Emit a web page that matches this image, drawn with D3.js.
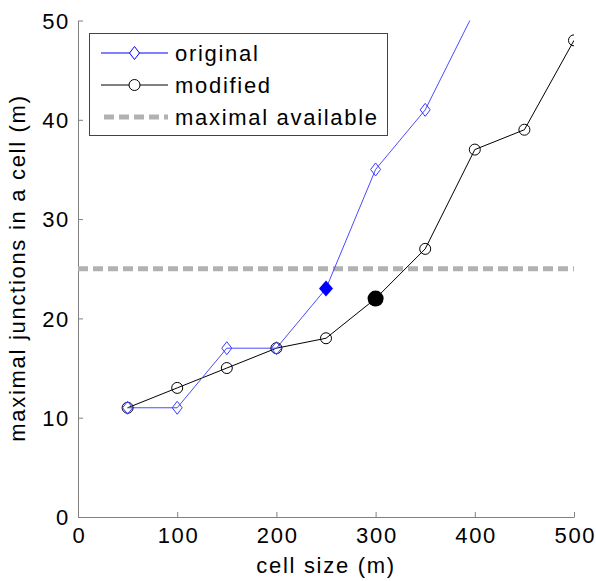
<!DOCTYPE html>
<html><head><meta charset="utf-8">
<script src="https://cdn.jsdelivr.net/npm/d3@7"></script>
<style>body{margin:0;background:#fff}svg{display:block}text{font-family:"Liberation Sans",Arial,sans-serif;fill:#000;letter-spacing:1.7px}</style>
</head><body>
<script>
const cellSizes = [50,100,150,200,250,300,350,400,450,500];
const originalX = [50,100,150,200,250,300,350,400];
const originalY = [11,11,17,17,23,35,41,51];
const modifiedX = [50,100,150,200,250,300,350,400,450,500];
const modifiedY = [11,13,15,17,18,22,27,37,39,48];
const maxAvailable = 25;
const highlightOriginal = {x:250,y:23};
const highlightModified = {x:300,y:22};
const xTicks = [0,100,200,300,400,500];
const yTicks = [0,10,20,30,40,50];
const legendLabels = ["original","modified","maximal available"];

const W=596,H=581;
const svg=d3.select("body").append("svg").attr("width",W).attr("height",H);
const x=d3.scaleLinear().domain([0,500]).range([78,574]);
const y=d3.scaleLinear().domain([0,50]).range([517,20.5]);
const fs=22;

svg.append("defs").append("clipPath").attr("id","clip").append("rect")
  .attr("x",78).attr("y",20.5).attr("width",496).attr("height",496.5);

// axes
const axCol="#808080";
const xa=svg.append("g").attr("transform","translate(0,517)")
  .call(d3.axisBottom(x).tickValues(xTicks).tickSizeInner(-5).tickSizeOuter(0).tickPadding(10));
const ya=svg.append("g").attr("transform","translate(78,0)")
  .call(d3.axisLeft(y).tickValues(yTicks).tickSizeInner(-5).tickSizeOuter(0).tickPadding(8));
[xa,ya].forEach(a=>{
  a.select(".domain").attr("stroke",axCol);
  a.selectAll(".tick line").attr("stroke",axCol);
  a.selectAll("text").style("font-size",fs+"px").attr("fill","#000").style("font-family","Liberation Sans, Arial, sans-serif");
});
xa.selectAll("text").attr("dx","0.85px");
ya.selectAll("text").attr("dy","0.35em");

svg.append("text").attr("x",326).attr("y",573).attr("text-anchor","middle").style("font-size",fs+"px").text("cell size (m)");
svg.append("text").attr("transform","translate(25,268) rotate(-90)").attr("text-anchor","middle").style("font-size",fs+"px").text("maximal junctions in a cell (m)");

const plot=svg.append("g").attr("clip-path","url(#clip)");
// max available
plot.append("line").attr("x1",x(0)).attr("x2",x(500)).attr("y1",y(maxAvailable)).attr("y2",y(maxAvailable))
  .attr("stroke","#b2b2b2").attr("stroke-width",5).attr("stroke-dasharray","10,5");

const line=d3.line().x(d=>x(d[0])).y(d=>y(d[1]));
const mod=modifiedX.map((v,i)=>[v,modifiedY[i]]);
const orig=originalX.map((v,i)=>[v,originalY[i]]);
plot.append("path").datum(mod).attr("d",line).attr("fill","none").attr("stroke","#000").attr("stroke-width",1);
plot.append("path").datum(orig).attr("d",line).attr("fill","none").attr("stroke","#4a4aff").attr("stroke-width",1);

const diamond=(cx,cy,rx,ry)=>`M${cx},${cy-ry}L${cx+rx},${cy}L${cx},${cy+ry}L${cx-rx},${cy}Z`;
plot.selectAll("circle.m").data(mod).enter().append("circle").attr("class","m")
  .attr("cx",d=>x(d[0])).attr("cy",d=>y(d[1])).attr("r",5.5).attr("fill","none").attr("stroke","#000").attr("stroke-width",1);
plot.selectAll("path.o").data(orig).enter().append("path").attr("class","o")
  .attr("d",d=>diamond(x(d[0]),y(d[1]),5,6.5)).attr("fill","none").attr("stroke","#3a3aff").attr("stroke-width",1);
plot.append("circle").attr("cx",x(highlightModified.x)).attr("cy",y(highlightModified.y)).attr("r",8).attr("fill","#000");
plot.append("path").attr("d",diamond(x(highlightOriginal.x),y(highlightOriginal.y),7,8)).attr("fill","#0000ff");

// legend
const lg=svg.append("g");
lg.append("rect").attr("x",89.5).attr("y",33.5).attr("width",298).attr("height",102).attr("fill","#fff").attr("stroke","#444").attr("stroke-width",1);
const rows=[53,85,117];
lg.append("line").attr("x1",101).attr("x2",168).attr("y1",rows[0]).attr("y2",rows[0]).attr("stroke","#0000ff");
lg.append("path").attr("d",diamond(134.5,rows[0],5,6.5)).attr("fill","#fff").attr("stroke","#0000ff");
lg.append("line").attr("x1",101).attr("x2",168).attr("y1",rows[1]).attr("y2",rows[1]).attr("stroke","#000");
lg.append("circle").attr("cx",134.5).attr("cy",rows[1]).attr("r",5.5).attr("fill","#fff").attr("stroke","#000");
lg.append("line").attr("x1",104).attr("x2",168).attr("y1",rows[2]).attr("y2",rows[2]).attr("stroke","#b2b2b2").attr("stroke-width",5).attr("stroke-dasharray","10,5");
legendLabels.forEach((t,i)=>{
  lg.append("text").attr("x",175).attr("y",rows[i]).attr("dy","0.35em").style("font-size",fs+"px").text(t);
});
</script>
</body></html>
